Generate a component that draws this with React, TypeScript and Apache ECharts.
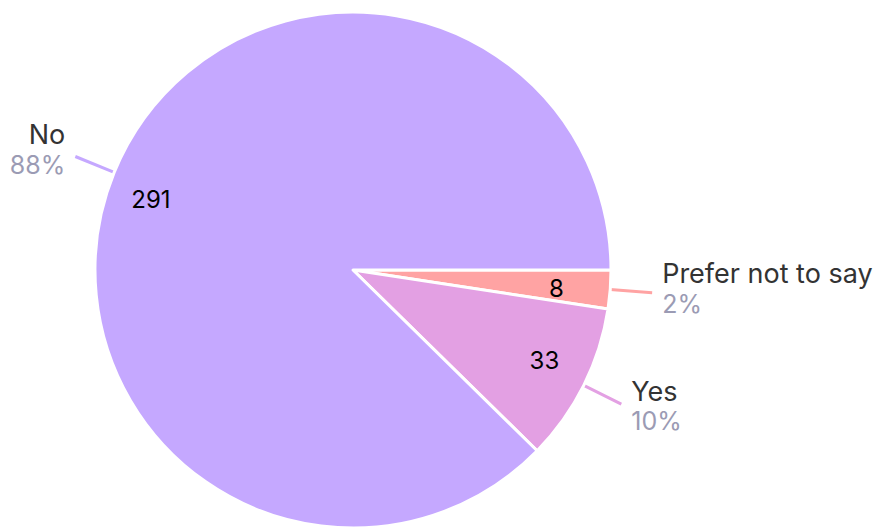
import React, { useEffect, useRef } from "react";
import * as echarts from "echarts";

const categories = ["Prefer not to say", "Yes", "No"];
const values = [8, 33, 291];
const colors = ["#FFA3A3", "#E3A0E3", "#C5A8FF"];

const FONT = "Inter, 'Noto Sans', sans-serif";

// small visual nudges for labels (by data index)
const innerNudge = [[-10, 2], [0, -5], [-4, 10]];
const outerPad = [[0, 0, 8, 0], [4, 0, 0, 0], [0, 0, 14, 0]];

export default function App() {
  const ref = useRef<HTMLDivElement>(null);
  useEffect(() => {
    if (!ref.current) return;
    const chart = echarts.init(ref.current, undefined, { renderer: "svg" });
    const data = categories.map((name, i) => ({
      name,
      value: values[i],
      itemStyle: { color: colors[i] },
      label: { padding: outerPad[i] },
      labelLine: { lineStyle: { color: colors[i], width: 3 } },
    }));
    chart.setOption({
      animation: false,
      backgroundColor: "#ffffff",
      series: [
        {
          type: "pie",
          center: [353, 270],
          radius: [0, 258],
          startAngle: 0,
          clockwise: true,
          percentPrecision: 0,
          avoidLabelOverlap: false,
          itemStyle: { borderColor: "#ffffff", borderWidth: 3 },
          label: {
            show: true,
            position: "outside",
            distanceToLabelLine: 10,
            formatter: "{n|{b}}\n{p|{d}%}",
            rich: {
              n: { fontFamily: FONT, fontSize: 27, color: "#333333", lineHeight: 30 },
              p: { fontFamily: FONT, fontSize: 25, color: "#9B9BB4", lineHeight: 30 },
            },
          },
          labelLine: { show: true, length: 42, length2: 0, smooth: false },
          emphasis: { disabled: true },
          data,
        },
        {
          type: "pie",
          center: [353, 270],
          radius: [164, 258],
          startAngle: 0,
          clockwise: true,
          silent: true,
          itemStyle: { color: "transparent", borderWidth: 0 },
          label: {
            show: true,
            position: "inside",
            formatter: "{c}",
            fontFamily: FONT,
            fontSize: 24,
            color: "#000000",
          },
          labelLayout: (p: any) => ({
            dx: innerNudge[p.dataIndex][0],
            dy: innerNudge[p.dataIndex][1],
          }),
          labelLine: { show: false },
          emphasis: { disabled: true },
          data: categories.map((name, i) => ({ name, value: values[i] })),
        },
      ],
    });
    return () => chart.dispose();
  }, []);
  return (
    <div
      ref={ref}
      style={{ position: "fixed", left: 0, top: 0, width: 879, height: 528 }}
    />
  );
}
